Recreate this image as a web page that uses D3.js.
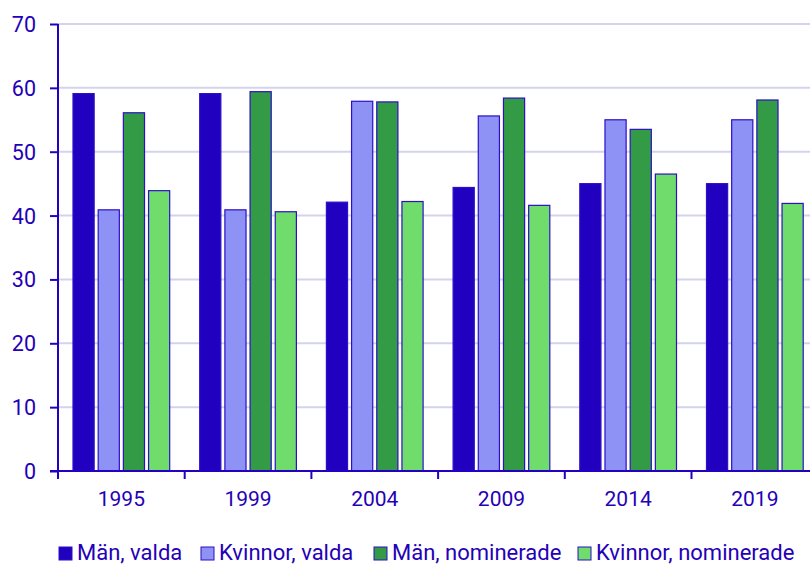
<!DOCTYPE html>
<html>
<head>
<meta charset="utf-8">
<script src="https://cdn.jsdelivr.net/npm/d3@7"></script>
<style>
  body { margin: 0; background: #fff; }
  text { font-family: Roboto, "Noto Sans", sans-serif; fill: #2400b8; }
</style>
</head>
<body>
<div id="chart"></div>
<script>
// Chart data
const years = ["1995", "1999", "2004", "2009", "2014", "2019"];
const seriesNames = ["Män, valda", "Kvinnor, valda", "Män, nominerade", "Kvinnor, nominerade"];
const menElected = [59.1, 59.1, 42.1, 44.4, 45.0, 45.0];
const womenElected = [40.9, 40.9, 57.9, 55.6, 55.0, 55.0];
const menNominated = [56.1, 59.4, 57.8, 58.4, 53.5, 58.1];
const womenNominated = [43.9, 40.6, 42.2, 41.6, 46.5, 41.9];
const yTicks = [0, 10, 20, 30, 40, 50, 60, 70];

const colors = ["#2200c0", "#8f92f5", "#339a45", "#70dc6b"];
const seriesValues = [menElected, womenElected, menNominated, womenNominated];

const width = 810;
const height = 566;
const margin = { top: 24, left: 58, bottom: 95 };
const axisColor = "#2400c0";

const svg = d3.select("#chart")
  .append("svg")
  .attr("width", width)
  .attr("height", height);

// x scale runs a bit past the right edge like the original
const x0 = d3.scaleBand()
  .domain(years)
  .range([margin.left, margin.left + 6 * 126.7]);

const x1 = d3.scaleBand()
  .domain(seriesNames)
  .range([15, x0.bandwidth() - 15])
  .paddingInner(0.16);

const y = d3.scaleLinear()
  .domain([0, 70])
  .range([height - margin.bottom, margin.top]);

// gridlines
svg.append("g")
  .selectAll("line")
  .data(yTicks.filter(d => d > 0))
  .enter()
  .append("line")
  .attr("x1", margin.left)
  .attr("x2", width)
  .attr("y1", d => y(d))
  .attr("y2", d => y(d))
  .attr("stroke", "#d3d3ee")
  .attr("stroke-width", 2);

// bars
const groups = svg.append("g")
  .selectAll("g")
  .data(years)
  .enter()
  .append("g")
  .attr("transform", d => `translate(${x0(d)},0)`);

groups.selectAll("rect")
  .data((d, i) => seriesNames.map((s, j) => ({ key: s, value: seriesValues[j][i], idx: j })))
  .enter()
  .append("rect")
  .attr("x", d => x1(d.key))
  .attr("y", d => y(d.value))
  .attr("width", x1.bandwidth())
  .attr("height", d => y(0) - y(d.value))
  .attr("fill", d => colors[d.idx])
  .attr("stroke", "#2a10c8")
  .attr("stroke-width", 1.2);

// y axis
const yAxis = svg.append("g")
  .attr("transform", `translate(${margin.left},0)`)
  .call(d3.axisLeft(y).tickValues(yTicks).tickSize(8).tickPadding(8));

yAxis.select(".domain").attr("stroke", axisColor).attr("stroke-width", 2)
  .attr("d", `M0,${y(0)}V${y(70)}`);
yAxis.selectAll(".tick line").attr("stroke", axisColor).attr("stroke-width", 2);
yAxis.selectAll(".tick text")
  .style("font-size", "21.5px")
  .attr("fill", "#2400b8")
  .attr("x", -22)
  .attr("dy", "0.35em");

// x axis
const xAxis = svg.append("g")
  .attr("transform", `translate(0,${y(0)})`)
  .call(d3.axisBottom(x0).tickSize(0).tickPadding(20));

xAxis.select(".domain").attr("stroke", axisColor).attr("stroke-width", 2)
  .attr("d", `M${margin.left - 8},0H${width}`);
xAxis.selectAll(".tick text")
  .style("font-size", "21px")
  .attr("fill", "#2400b8");

// tick marks between categories
svg.append("g")
  .selectAll("line")
  .data(years)
  .enter()
  .append("line")
  .attr("x1", d => x0(d))
  .attr("x2", d => x0(d))
  .attr("y1", y(0))
  .attr("y2", y(0) + 8)
  .attr("stroke", axisColor)
  .attr("stroke-width", 2);

// legend
const legendX = [58, 200, 373, 577];
const legend = svg.append("g")
  .selectAll("g")
  .data(seriesNames)
  .enter()
  .append("g")
  .attr("transform", (d, i) => `translate(${legendX[i]},546)`);

legend.append("rect")
  .attr("x", 1)
  .attr("y", 1)
  .attr("width", 13)
  .attr("height", 13)
  .attr("fill", (d, i) => colors[i])
  .attr("stroke", "#2a10c8")
  .attr("stroke-width", 1);

legend.append("text")
  .attr("x", 19)
  .attr("y", 14)
  .style("font-size", "22px")
  .text(d => d);
</script>
</body>
</html>
